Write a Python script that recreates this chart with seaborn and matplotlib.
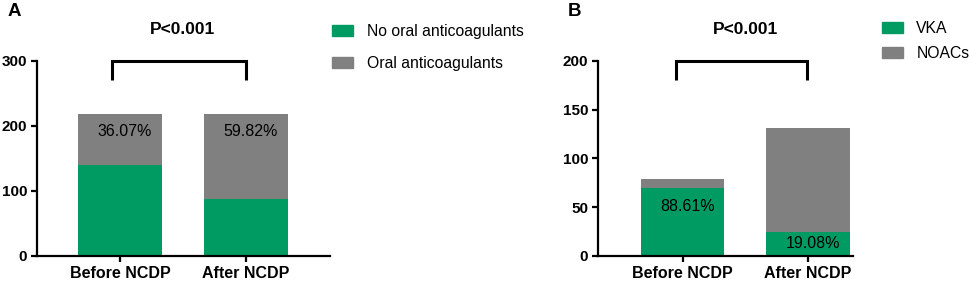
import matplotlib
matplotlib.use("Agg")
import matplotlib.pyplot as plt
import pandas as pd
import seaborn as sns
from matplotlib.patches import Patch

GREEN = "#009a63"
GRAY = "#808080"

periods = ["Before NCDP", "After NCDP"]

# panel A: patients with / without oral anticoagulants
no_oac = [140, 88]
oac = [79, 131]
oac_pct = ["36.07%", "59.82%"]

# panel B: among anticoagulated patients
vka = [70, 25]
noacs = [9, 106]
vka_pct = ["88.61%", "19.08%"]

sns.set_theme(style="ticks")
plt.rcParams["font.family"] = ["Liberation Sans", "DejaVu Sans"]
plt.rcParams["text.color"] = "black"
plt.rcParams["xtick.color"] = "black"
plt.rcParams["ytick.color"] = "black"
plt.rcParams["xtick.labelcolor"] = "black"
plt.rcParams["ytick.labelcolor"] = "black"
plt.rcParams["axes.edgecolor"] = "black"


def stacked(ax, bottom_vals, top_vals, ylim, yticks):
    df = pd.DataFrame({
        "period": periods,
        "bottom": bottom_vals,
        "total": [b + t for b, t in zip(bottom_vals, top_vals)],
    })
    sns.barplot(data=df, x="period", y="total", color=GRAY, saturation=1,
                width=0.667, linewidth=0, ax=ax)
    sns.barplot(data=df, x="period", y="bottom", color=GREEN, saturation=1,
                width=0.667, linewidth=0, ax=ax)
    ax.set_ylim(*ylim)
    ax.set_yticks(yticks)
    ax.set_xlabel("")
    ax.set_ylabel("")
    for side in ["top", "right"]:
        ax.spines[side].set_visible(False)
    for side in ["left", "bottom"]:
        ax.spines[side].set_linewidth(1.6)
    ax.tick_params(axis="both", width=1.6, length=4, pad=3, labelsize=11)
    ax.tick_params(axis="x", labelsize=11.5)
    for lab in ax.get_xticklabels() + ax.get_yticklabels():
        lab.set_fontweight("bold")


def bracket(ax, x0, x1, y_top, y_low):
    ax.plot([x0, x0, x1, x1], [y_low, y_top, y_top, y_low], color="black",
            lw=2.2, clip_on=False, solid_capstyle="butt", solid_joinstyle="miter")
    ax.text(0.5, 1.16, "P<0.001", transform=ax.get_xaxis_transform(),
            ha="center", va="center", fontsize=12.5, fontweight="bold")


fig = plt.figure(figsize=(9.69, 2.81), dpi=100)
ax_a = fig.add_axes([0.0382, 0.089, 0.3024, 0.694])
ax_b = fig.add_axes([0.617, 0.089, 0.263, 0.694])

stacked(ax_a, no_oac, oac, (0, 300), [0, 100, 200, 300])
ax_a.set_xlim(-0.66, 1.67)
bracket(ax_a, -0.06, 1.0, 300, 270)
for i, txt in enumerate(oac_pct):
    ax_a.text(i + 0.04, 192, txt, ha="center", va="center", fontsize=11.5)

stacked(ax_b, vka, noacs, (0, 200), [0, 50, 100, 150, 200])
ax_b.set_xlim(-0.675, 1.355)
bracket(ax_b, -0.05, 0.99, 200, 180)
for i, (txt, y) in enumerate(zip(vka_pct, [51, 13])):
    ax_b.text(i + 0.04, y, txt, ha="center", va="center", fontsize=11.5)

fig.text(0.008, 0.96, "A", fontsize=13.5, fontweight="bold", va="center")
fig.text(0.586, 0.96, "B", fontsize=13.5, fontweight="bold", va="center")

leg_kw = dict(frameon=False, loc="upper left", borderpad=0, borderaxespad=0,
              handlelength=1.35, handleheight=0.7, handletextpad=0.85, fontsize=11.3)
fig.legend(handles=[Patch(color=GREEN, label="No oral anticoagulants"),
                    Patch(color=GRAY, label="Oral anticoagulants")],
           bbox_to_anchor=(0.3426, 0.915), labelspacing=1.08, **leg_kw)
fig.legend(handles=[Patch(color=GREEN, label="VKA"),
                    Patch(color=GRAY, label="NOACs")],
           bbox_to_anchor=(0.910, 0.927), labelspacing=0.68, **leg_kw)

fig.savefig("out.png", dpi=100)
plt.close(fig)
